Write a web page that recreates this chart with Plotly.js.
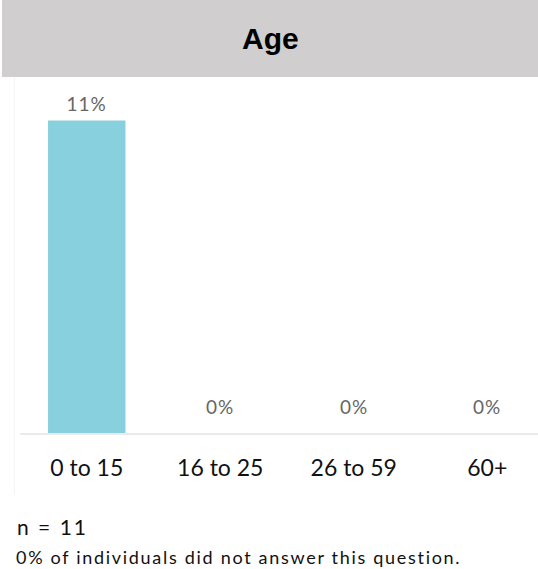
<!DOCTYPE html>
<html>
<head>
<meta charset="utf-8">
<script src="https://cdn.plot.ly/plotly-3.0.1.min.js"></script>
<style>
  html, body { margin: 0; padding: 0; background: #ffffff; }
  #chart { width: 538px; height: 569px; }
  /* looser tracking for the notes under the chart and the value labels */
  #chart g.annotation[data-index="1"] text { letter-spacing: 2px; }
  #chart g.annotation[data-index="2"] text { letter-spacing: 1.7px; }
  #chart g.annotation[data-index="3"] text,
  #chart g.annotation[data-index="4"] text,
  #chart g.annotation[data-index="5"] text,
  #chart g.annotation[data-index="6"] text { letter-spacing: 1px; }
</style>
</head>
<body>
<div id="chart"></div>
<script>
// Age distribution of respondents
const categories = ['0 to 15', '16 to 25', '26 to 59', '60+'];
const shares = [11, 0, 0, 0];            // percent of respondents
const chartTitle = 'Age';
const sampleNote = 'n = 11';
const missingNote = '0% of individuals did not answer this question.';

const W = 538, H = 569;
const plotLeft = 20, plotRight = 538, plotTop = 78, plotBottom = 433;
const pw = plotRight - plotLeft, ph = plotBottom - plotTop;
// pixel -> paper helpers for the decorations around the plot
const px = x => (x - plotLeft) / pw;
const py = y => (plotBottom - y) / ph;

const bodyFont = 'Lato, "Open Sans", sans-serif';

const trace = {
  type: 'bar',
  x: categories,
  y: shares,
  width: 0.58,
  marker: { color: '#89d0de', line: { width: 0 } },
  hoverinfo: 'skip'
};

// value labels above each bar
const valueLabels = categories.map((c, i) => ({
  x: c,
  y: shares[i],
  xref: 'x',
  yref: 'y',
  text: shares[i] + '%',
  showarrow: false,
  yanchor: 'bottom',
  yshift: shares[i] > 0 ? 4 : 13,
  font: { family: bodyFont, size: 19, color: '#666666' }
}));

const layout = {
  width: W,
  height: H,
  margin: { l: plotLeft, r: W - plotRight, t: plotTop, b: H - plotBottom, pad: 0 },
  paper_bgcolor: '#ffffff',
  plot_bgcolor: '#ffffff',
  showlegend: false,
  xaxis: {
    type: 'category',
    range: [-0.5, -0.5 + pw / 133.5],
    showgrid: false,
    zeroline: false,
    showline: true,
    linecolor: '#ebebeb',
    linewidth: 2,
    ticks: '',
    ticklabelstandoff: 13,
    tickfont: { family: bodyFont, size: 23, color: '#111111' },
    fixedrange: true
  },
  yaxis: {
    range: [0, 12.5],
    visible: false,
    showgrid: false,
    zeroline: false,
    fixedrange: true
  },
  shapes: [
    // title band
    {
      type: 'rect', xref: 'paper', yref: 'paper', layer: 'below',
      x0: px(2), x1: px(538), y0: py(77), y1: py(0),
      fillcolor: '#d0cece', line: { width: 0 }
    },
    // faint frame edge on the left
    {
      type: 'line', xref: 'paper', yref: 'paper', layer: 'below',
      x0: px(14.5), x1: px(14.5), y0: py(77), y1: py(495),
      line: { color: '#f4f4f4', width: 1 }
    }
  ],
  annotations: [
    {
      xref: 'paper', yref: 'paper', x: px(270), y: py(39),
      xanchor: 'center', yanchor: 'middle', showarrow: false,
      text: '<b>' + chartTitle + '</b>',
      font: { family: '"Liberation Sans", Arial, sans-serif', size: 30, color: '#000000' }
    },
    {
      xref: 'paper', yref: 'paper', x: px(15), y: py(526),
      xanchor: 'left', yanchor: 'middle', align: 'left', showarrow: false,
      text: sampleNote,
      font: { family: bodyFont, size: 21, color: '#111111' }
    },
    {
      xref: 'paper', yref: 'paper', x: px(14), y: py(557),
      xanchor: 'left', yanchor: 'middle', align: 'left', showarrow: false,
      text: missingNote,
      font: { family: bodyFont, size: 18, color: '#111111' }
    }
  ].concat(valueLabels)
};

Plotly.newPlot('chart', [trace], layout, { displayModeBar: false, staticPlot: true });
</script>
</body>
</html>
